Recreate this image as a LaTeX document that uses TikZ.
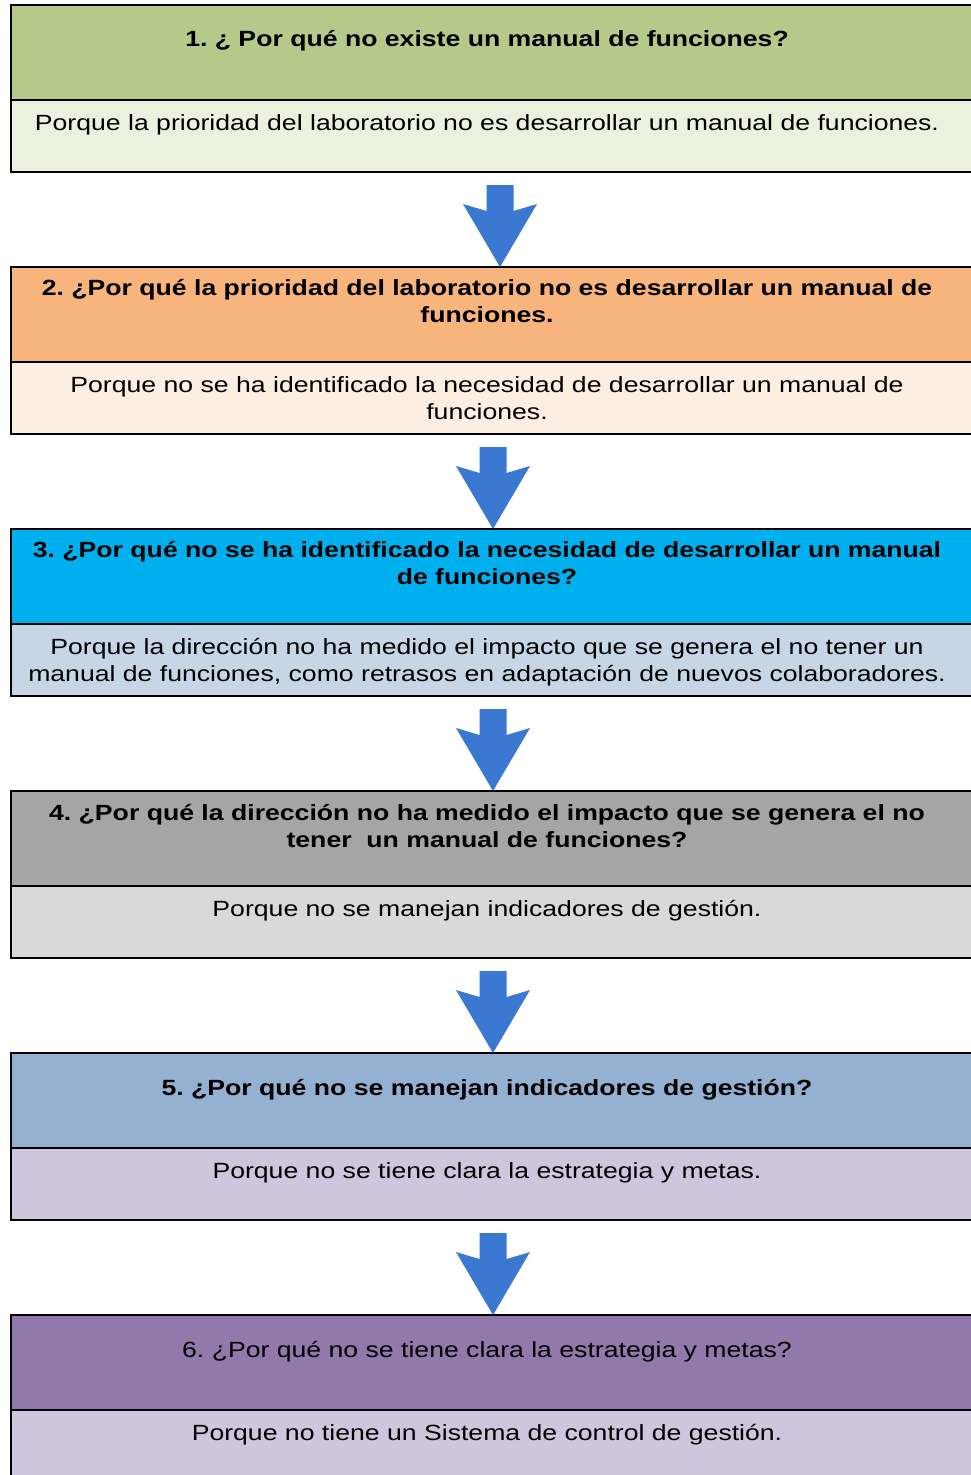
\documentclass[tikz,border=0pt]{standalone}
\usepackage{fontspec}
\setmainfont{Liberation Sans}[FakeStretch=1.21]
\usetikzlibrary{calc}
\frenchspacing

\definecolor{cabUno}{HTML}{B5C98A}   \definecolor{resUno}{HTML}{EBF0DF}
\definecolor{cabDos}{HTML}{F7B47C}   \definecolor{resDos}{HTML}{FDEEE2}
\definecolor{cabTres}{HTML}{00B0EE}  \definecolor{resTres}{HTML}{C7D6E7}
\definecolor{cabCuatro}{HTML}{A5A5A5}\definecolor{resCuatro}{HTML}{D9D9D9}
\definecolor{cabCinco}{HTML}{95B1D1} \definecolor{resCinco}{HTML}{CEC6DD}
\definecolor{cabSeis}{HTML}{9179AB}  \definecolor{resSeis}{HTML}{CEC6DD}
\definecolor{azul}{HTML}{3A78D2}

\begin{document}
\begin{tikzpicture}[x=1pt,y=-1pt,line join=miter,
    caja/.style={draw=black,line width=1.6pt,minimum width=964pt,inner sep=0pt,outer sep=0pt,anchor=north west},
    cab/.style={caja,minimum height=95pt},
    res/.style={caja,minimum height=72pt},
    preg/.style={font=\fontsize{22}{27}\selectfont\bfseries,align=center,inner sep=0pt},
    resp/.style={font=\fontsize{22}{27}\selectfont,align=center,inner sep=0pt}]
    \useasboundingbox (0,0) rectangle (971,1475);
    \clip (0,0) rectangle (971,1475);
    % flecha de bloque: #1 inicio, #2 caja destino
    \def\flecha#1#2{\fill[azul] ($(#1)+(-13.5,0)$) -- ($(#1)+(-13.5,26)$) -- ($(#1)+(-37,19)$)
        -- (#1 |- #2.north) -- ($(#1)+(37,19)$) -- ($(#1)+(13.5,26)$) -- ($(#1)+(13.5,0)$) -- cycle;}

    % 1
    \node[cab,fill=cabUno] (h1) at (11,5) {};
    \node[res,fill=resUno] (b1) at (h1.south west) {};
    \node[preg] (q1) at ($(h1.north west)+(476,36)$) {1. ¿ Por qué no existe un manual de funciones?};
    \node[resp] (r1) at ($(b1.north west)+(476,24.5)$) {Porque la prioridad del laboratorio no es desarrollar un manual de funciones.};
    % 2
    \node[cab,fill=cabDos] (h2) at ($(b1.south west)+(0,95)$) {};
    \node[res,fill=resDos] (b2) at (h2.south west) {};
    \node[preg] (q2) at ($(h2.north west)+(476,34)$) {2. ¿Por qué la prioridad del laboratorio no es desarrollar un manual de\\funciones.};
    \node[resp] (r2) at ($(b2.north west)+(476,36.5)$) {Porque no se ha identificado la necesidad de desarrollar un manual de\\funciones.};
    % 3
    \node[cab,fill=cabTres] (h3) at ($(b2.south west)+(0,95)$) {};
    \node[res,fill=resTres] (b3) at (h3.south west) {};
    \node[preg] (q3) at ($(h3.north west)+(476,34)$) {3. ¿Por qué no se ha identificado la necesidad de desarrollar un manual\\de funciones?};
    \node[resp] (r3) at ($(b3.north west)+(476,38)$) {Porque la dirección no ha medido el impacto que se genera el no tener un\\manual de funciones, como retrasos en adaptación de nuevos colaboradores.};
    % 4
    \node[cab,fill=cabCuatro] (h4) at ($(b3.south west)+(0,95)$) {};
    \node[res,fill=resCuatro] (b4) at (h4.south west) {};
    \node[preg] (q4) at ($(h4.north west)+(476,35)$) {4. ¿Por qué la dirección no ha medido el impacto que se genera el no\\tener\ \ un manual de funciones?};
    \node[resp] (r4) at ($(b4.north west)+(476,25)$) {Porque no se manejan indicadores de gestión.};
    % 5
    \node[cab,fill=cabCinco] (h5) at ($(b4.south west)+(0,95)$) {};
    \node[res,fill=resCinco] (b5) at (h5.south west) {};
    \node[preg] (q5) at ($(h5.north west)+(476,37)$) {5. ¿Por qué no se manejan indicadores de gestión?};
    \node[resp] (r5) at ($(b5.north west)+(476,25)$) {Porque no se tiene clara la estrategia y metas.};
    % 6
    \node[cab,fill=cabSeis] (h6) at ($(b5.south west)+(0,95)$) {};
    \node[res,fill=resSeis] (b6) at (h6.south west) {};
    \node[resp] (q6) at ($(h6.north west)+(476,37)$) {6. ¿Por qué no se tiene clara la estrategia y metas?};
    \node[resp] (r6) at ($(b6.north west)+(476,25)$) {Porque no tiene un Sistema de control de gestión.};

    % flechas
    \coordinate (s1) at ($(b1.south west)+(489,13)$);
    \coordinate (s2) at ($(b2.south west)+(482,13)$);
    \coordinate (s3) at ($(b3.south west)+(482,13)$);
    \coordinate (s4) at ($(b4.south west)+(482,13)$);
    \coordinate (s5) at ($(b5.south west)+(482,13)$);
    \flecha{s1}{h2}
    \flecha{s2}{h3}
    \flecha{s3}{h4}
    \flecha{s4}{h5}
    \flecha{s5}{h6}
\end{tikzpicture}
\end{document}
